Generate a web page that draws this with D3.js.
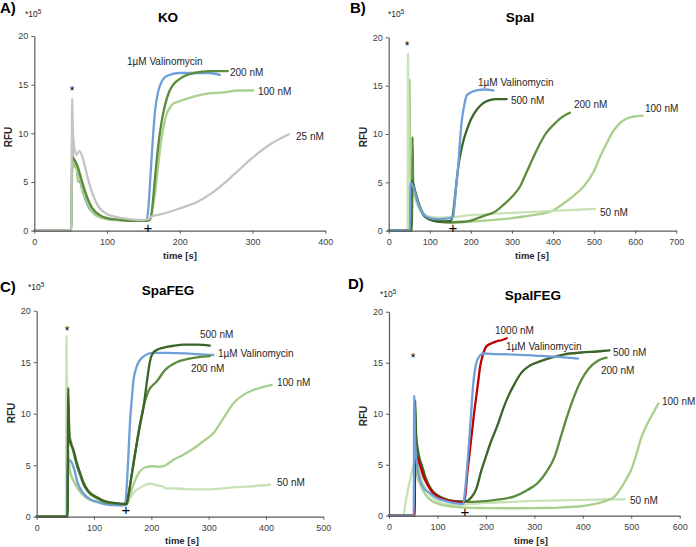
<!DOCTYPE html>
<html><head><meta charset="utf-8">
<script src="https://cdn.jsdelivr.net/npm/d3@7"></script>
<style>body{margin:0;background:#fff}svg{display:block}text{font-family:"Liberation Sans",Arial,sans-serif}</style>
</head><body>
<svg id="c" width="696" height="547"></svg>
<script>
// ---------- DATA (time [s], RFU x10^5) ----------
const yTicks = [0, 5, 10, 15, 20];
const xTicksA = [0, 100, 200, 300, 400];
const xTicksB = [0, 100, 200, 300, 400, 500, 600, 700];
const xTicksC = [0, 100, 200, 300, 400, 500];
const xTicksD = [0, 100, 200, 300, 400, 500, 600];

// Panel A: KO
const koVal = [[0,0],[51,0],[52,6.5],[55,6.8],[60,6],[65,4.5],[70,3.3],[75,2.4],[80,1.9],[90,1.4],[100,1.25],[120,1.1],[140,1.0],[154,1.0],[157,2.5],[160,6],[163,9.5],[166,12.3],[170,14.2],[175,15.3],[180,15.8],[190,16.1],[200,16.2],[220,16.2],[240,16.2],[255,16.0]];
const ko200 = [[0,0],[51,0],[52,7.6],[55,7.3],[60,6.5],[65,5.2],[70,4.0],[75,3.0],[80,2.3],[90,1.6],[100,1.3],[120,1.1],[140,1.0],[155,1.0],[160,1.3],[163,3],[166,5.5],[170,8.5],[175,11.2],[180,13],[185,14.2],[190,14.9],[200,15.6],[210,16],[220,16.2],[240,16.4],[266,16.4]];
const ko100 = [[0,0],[51,0],[52,9.5],[54,6.5],[57,7.2],[60,5],[63,5.8],[66,4.0],[70,3.5],[75,2.6],[80,1.9],[90,1.4],[100,1.2],[120,1.05],[140,1.0],[158,1.0],[162,2],[166,3.8],[170,6.5],[174,9],[178,10.8],[182,12],[186,12.6],[190,13],[200,13.3],[220,13.8],[240,14.1],[260,14.2],[280,14.4],[301,14.4]];
const ko25 = [[0,0],[51,0],[52,13.6],[53,10.5],[55,8.5],[58,7.8],[62,8.2],[66,7.6],[70,6.5],[75,5.0],[80,3.8],[85,2.9],[90,2.3],[100,1.7],[110,1.45],[130,1.2],[150,1.1],[157,1.2],[162,1.5],[175,1.7],[200,2.3],[225,3.0],[250,4.2],[275,5.8],[300,7.5],[325,8.9],[350,9.9]];

// Panel B: SpaI
const spaI50 = [[0,0],[46,0],[47,18.3],[48.5,5.5],[55,4.5],[65,3.2],[75,2.2],[85,1.7],[100,1.45],[120,1.35],[150,1.4],[200,1.6],[250,1.75],[300,1.85],[350,1.95],[400,2.05],[450,2.15],[502,2.25]];
const spaI100 = [[0,0],[50,0],[51,15.6],[52.5,5.3],[58,4.8],[65,3.6],[75,2.4],[85,1.6],[100,1.2],[120,1.0],[150,0.9],[200,0.95],[250,1.1],[300,1.3],[350,1.6],[400,2.1],[425,2.8],[450,3.6],[475,4.6],[500,6.2],[515,7.7],[530,9],[545,10.2],[560,11],[575,11.5],[590,11.75],[605,11.85],[618,11.9]];
const spaI200 = [[0,0],[57,0],[58,9.7],[59.5,5],[65,4],[75,2.6],[85,1.7],[100,1.15],[120,0.95],[150,0.85],[180,0.9],[200,1.05],[230,1.5],[260,2.0],[280,2.7],[300,3.5],[320,4.6],[335,6],[350,7.4],[368,9],[385,10.2],[400,10.9],[420,11.7],[441,12.2]];
const spaI500 = [[0,0],[55,0],[56,5.2],[65,3.9],[75,2.5],[85,1.6],[100,1.15],[120,0.95],[150,1.0],[156,1.6],[160,3],[165,5],[170,6.8],[175,8],[180,9],[190,10.4],[200,11.5],[214,12.5],[230,13.2],[246,13.5],[260,13.6],[287,13.6]];
const spaIVal = [[0,0],[52,0],[53,5],[60,4.5],[70,3],[80,2],[90,1.5],[100,1.3],[120,1.2],[150,1.3],[157,1.5],[161,3],[165,5],[169,6.5],[173,9],[178,11.4],[184,13],[190,14],[200,14.3],[214,14.5],[235,14.6],[255,14.5]];

// Panel C: SpaFEG
const feg50 = [[0,0],[51,0],[52,17.5],[53.5,5],[58,4.2],[65,3.4],[75,2.5],[85,1.9],[100,1.5],[120,1.25],[140,1.15],[157,1.2],[163,1.8],[170,2.4],[180,2.8],[190,3.1],[198,3.2],[210,3.05],[221,2.9],[225,2.75],[238,2.75],[260,2.68],[285,2.65],[315,2.7],[343,2.85],[375,2.95],[407,3.1]];
const feg100 = [[0,0],[53,0],[54,6],[58,4.5],[65,3.4],[75,2.5],[85,1.9],[100,1.5],[120,1.3],[140,1.2],[157,1.2],[163,2.2],[170,3.3],[180,4.4],[190,4.8],[203,4.9],[215,4.85],[225,5],[238,5.5],[255,6],[273,6.6],[290,7.3],[308,8.1],[325,9.5],[343,11],[360,11.8],[378,12.3],[395,12.6],[410,12.8]];
const fegVal = [[0,0],[53,0],[54,5],[58,5.5],[64,4.85],[72,3.2],[81,2.3],[93,1.7],[105,1.45],[120,1.2],[140,1.1],[154,1.1],[157,2.9],[160,6],[163,9.4],[166,11.5],[169,13.3],[174,14.5],[180,15.2],[190,15.7],[203,15.9],[230,15.9],[260,15.85],[285,15.75],[308,15.7]];
const feg200 = [[0,0],[54,0],[55,11],[57,8],[60,7.2],[64,6.3],[70,5],[76,4],[81,3.2],[90,2.4],[105,1.8],[120,1.4],[134,1.3],[157,1.2],[160,2],[165,3.8],[170,5.5],[175,7.2],[180,8.8],[186,10.6],[195,12.2],[209,13.1],[225,14.3],[244,15.0],[262,15.3],[282,15.5],[302,15.6]];
const feg500 = [[0,0],[54,0],[55,12.5],[57,7.5],[60,7],[64,6.5],[70,5.2],[76,4.2],[81,3.4],[90,2.5],[105,1.9],[120,1.5],[134,1.35],[157,1.25],[160,2.1],[165,3.8],[170,5.6],[175,7.3],[180,8.9],[186,10.5],[192,13],[198,15.2],[203,15.9],[210,16.2],[220,16.4],[240,16.6],[256,16.7],[280,16.7],[302,16.6]];

// Panel D: SpaIFEG
const ifeg50 = [[0,0],[29,0],[35,1.5],[42,3.2],[50,4.8],[57,5.5],[62,4.5],[70,3.2],[80,2.3],[95,1.6],[110,1.2],[130,1.05],[157,1.1],[200,1.25],[250,1.35],[300,1.45],[350,1.5],[400,1.55],[450,1.6],[486,1.6]];
const ifeg100 = [[0,0],[52,0],[53,6],[58,4],[65,3],[75,2.1],[90,1.4],[110,1.05],[130,0.9],[157,0.8],[200,0.75],[250,0.73],[300,0.75],[350,0.8],[400,0.95],[430,1.2],[450,1.5],[466,1.9],[480,2.8],[490,3.6],[500,4.5],[510,5.9],[521,7.7],[531,8.8],[541,9.7],[549,10.4],[556,11.0]];
const ifeg200 = [[0,0],[52,0],[53,11],[55,7],[60,6],[65,5],[72,4],[80,3],[90,2.3],[100,1.9],[115,1.6],[130,1.45],[157,1.35],[190,1.4],[220,1.55],[259,1.9],[285,2.5],[307,3.2],[325,4.3],[342,5.8],[355,7.8],[369.5,10],[383,11.8],[397,13.3],[412,14.4],[431,15.2],[449,15.5]];
const ifeg500 = [[0,0],[53,0],[54,11.3],[56,8],[60,6.3],[65,5.3],[70,4.6],[75,3.8],[80,3.2],[90,2.4],[100,2],[115,1.65],[130,1.45],[157,1.4],[170,1.8],[180,2.6],[191,4.5],[200,5.8],[210,7.2],[225,9],[235,10.4],[246,11.7],[260,13],[273,14],[290,14.7],[310,15.1],[328,15.4],[360,15.8],[397,16.0],[430,16.1],[455,16.2]];
const ifeg1000 = [[0,0],[53,0],[54,6],[60,5.5],[65,4.8],[70,4],[80,3],[90,2.3],[100,1.9],[120,1.5],[140,1.35],[155,1.3],[158,2.2],[161,3.8],[166,6],[171,8.1],[176,10.2],[181,12],[185,13.5],[188,14.6],[194,15.8],[201,16.6],[212,16.9],[222,17.1],[232,17.2],[243,17.4]];
const ifegVal = [[0,0],[51,0],[52,11.8],[54,7],[58,5],[64,3.5],[72,2.7],[85,2.2],[100,1.7],[119,1.4],[140,1.2],[153,1.15],[156,2],[160,4],[164,6.4],[168,9],[174,13],[181,15.1],[188,15.7],[195,15.9],[220,15.85],[260,15.8],[300,15.7],[340,15.6],[390,15.4]];

// ---------- STYLE / LAYOUT ----------
const col = {blue:'#6f9fd8', gray:'#c4c4c4', n500:'#3b6427', n200:'#5b8b3b', n100:'#a9d08e', n50:'#c8e2b6', red:'#c00000'};

const panels = [
  {letter:'A)', title:'KO', xmax:400, xticks:xTicksA,
   x0:34.3, x1:325.3, y0:230.7, y1:36,
   letterPos:[0,13], expPos:[25,17], titlePos:[168,22], ylabPos:[8,137], xlabPos:[180,259], tickBase:245,
   series:[[koVal,col.blue],[ko100,col.n100],[ko200,col.n200],[ko25,col.gray]],
   labels:[['1µM Valinomycin',127,61],['200 nM',230,72],['100 nM',258,91],['25 nM',296,136]],
   star:[72,89], plus:[148,228]},
  {letter:'B)', title:'SpaI', xmax:700, xticks:xTicksB,
   x0:388.7, x1:676.3, y0:230.7, y1:37.3,
   letterPos:[350,13], expPos:[388,17], titlePos:[520,22], ylabPos:[363,137], xlabPos:[532,259], tickBase:245,
   series:[[spaI100,col.n100],[spaI50,col.n50],[spaI200,col.n200],[spaI500,col.n500],[spaIVal,col.blue]],
   labels:[['1µM Valinomycin',478,82],['500 nM',511,100],['200 nM',574,104],['100 nM',645,108],['50 nM',600,212]],
   star:[407,44], plus:[453,228]},
  {letter:'C)', title:'SpaFEG', xmax:500, xticks:xTicksC,
   x0:36.7, x1:323.3, y0:516.7, y1:310.7,
   letterPos:[0,292], expPos:[28,290], titlePos:[168,295], ylabPos:[11,413], xlabPos:[182,544], tickBase:531,
   series:[[feg50,col.n50],[feg100,col.n100],[fegVal,col.blue],[feg200,col.n200],[feg500,col.n500]],
   labels:[['500 nM',200,334],['1µM Valinomycin',218,353],['200 nM',191,368],['100 nM',277,382],['50 nM',277,482]],
   star:[67,329], plus:[126,510]},
  {letter:'D)', title:'SpaIFEG', xmax:600, xticks:xTicksD,
   x0:389, x1:679.7, y0:515.7, y1:311.7,
   letterPos:[348,289], expPos:[380,297], titlePos:[533,300], ylabPos:[363,416], xlabPos:[531,544], tickBase:531,
   series:[[ifeg50,col.n50],[ifeg100,col.n100],[ifeg200,col.n200],[ifeg500,col.n500],[ifeg1000,col.red],[ifegVal,col.blue]],
   labels:[['1000 nM',495,330],['1µM Valinomycin',506,346],['500 nM',613,352],['200 nM',601,370],['100 nM',662,401],['50 nM',630,500]],
   star:[413,356], plus:[465,512]}
];

const svg = d3.select('#c');
const axisCol = '#595959';

panels.forEach(p => {
  const x = d3.scaleLinear().domain([0, p.xmax]).range([p.x0, p.x1]);
  const y = d3.scaleLinear().domain([0, 20]).range([p.y0, p.y1]);
  const g = svg.append('g');

  const line = d3.line().x(d => x(d[0])).y(d => y(d[1])).curve(d3.curveMonotoneX);
  p.series.forEach(([data, c]) => {
    g.append('path').datum(data).attr('d', line)
      .attr('fill','none').attr('stroke', c).attr('stroke-width', 2.3)
      .attr('stroke-linejoin','round').attr('stroke-linecap','round');
  });

  const yAx = g.append('g').attr('transform', `translate(${p.x0},0)`)
    .call(d3.axisLeft(y).tickValues(yTicks).tickSize(3).tickSizeOuter(0).tickPadding(3));
  const xAx = g.append('g').attr('transform', `translate(0,${p.y0})`)
    .call(d3.axisBottom(x).tickValues(p.xticks).tickSize(3).tickSizeOuter(0).tickPadding(5));
  [yAx, xAx].forEach(a => {
    a.select('.domain').attr('stroke', axisCol).attr('stroke-width', 1.2);
    a.selectAll('.tick line').attr('stroke', axisCol);
    a.selectAll('.tick text').attr('fill', '#404040').attr('font-size', 9)
      .attr('font-family','"Liberation Sans",Arial,sans-serif');
  });

  g.append('text').attr('x', p.letterPos[0]).attr('y', p.letterPos[1])
    .attr('font-size', 15).attr('font-weight','bold').attr('fill','#000').text(p.letter);
  const e = g.append('text').attr('x', p.expPos[0]).attr('y', p.expPos[1])
    .attr('font-size', 8.5).attr('fill','#262626').text('*10');
  e.append('tspan').attr('dy', -3).attr('font-size', 6.5).text('5');
  g.append('text').attr('x', p.titlePos[0]).attr('y', p.titlePos[1]).attr('text-anchor','middle')
    .attr('font-size', 13.5).attr('font-weight','bold').attr('fill','#000').text(p.title);
  g.append('text').attr('transform', `translate(${p.ylabPos[0] + 3.5},${p.ylabPos[1]}) rotate(-90)`)
    .attr('text-anchor','middle').attr('font-size', 10).attr('font-weight','bold').attr('fill','#262626').text('RFU');
  g.append('text').attr('x', p.xlabPos[0]).attr('y', p.xlabPos[1]).attr('text-anchor','middle')
    .attr('font-size', 9.5).attr('font-weight','bold').attr('fill','#262626').text('time [s]');

  p.labels.forEach(([t, lx, ly]) => {
    g.append('text').attr('x', lx).attr('y', ly + 3.6).attr('font-size', 10)
      .attr('fill','#262626').text(t);
  });
  g.append('text').attr('x', p.star[0]).attr('y', p.star[1] + 6).attr('text-anchor','middle')
    .attr('font-size', 12).attr('fill','#000').text('*');
  g.append('text').attr('x', p.plus[0]).attr('y', p.plus[1] + 5).attr('text-anchor','middle')
    .attr('font-size', 15).attr('fill','#000').text('+');
});
</script>
</body></html>
